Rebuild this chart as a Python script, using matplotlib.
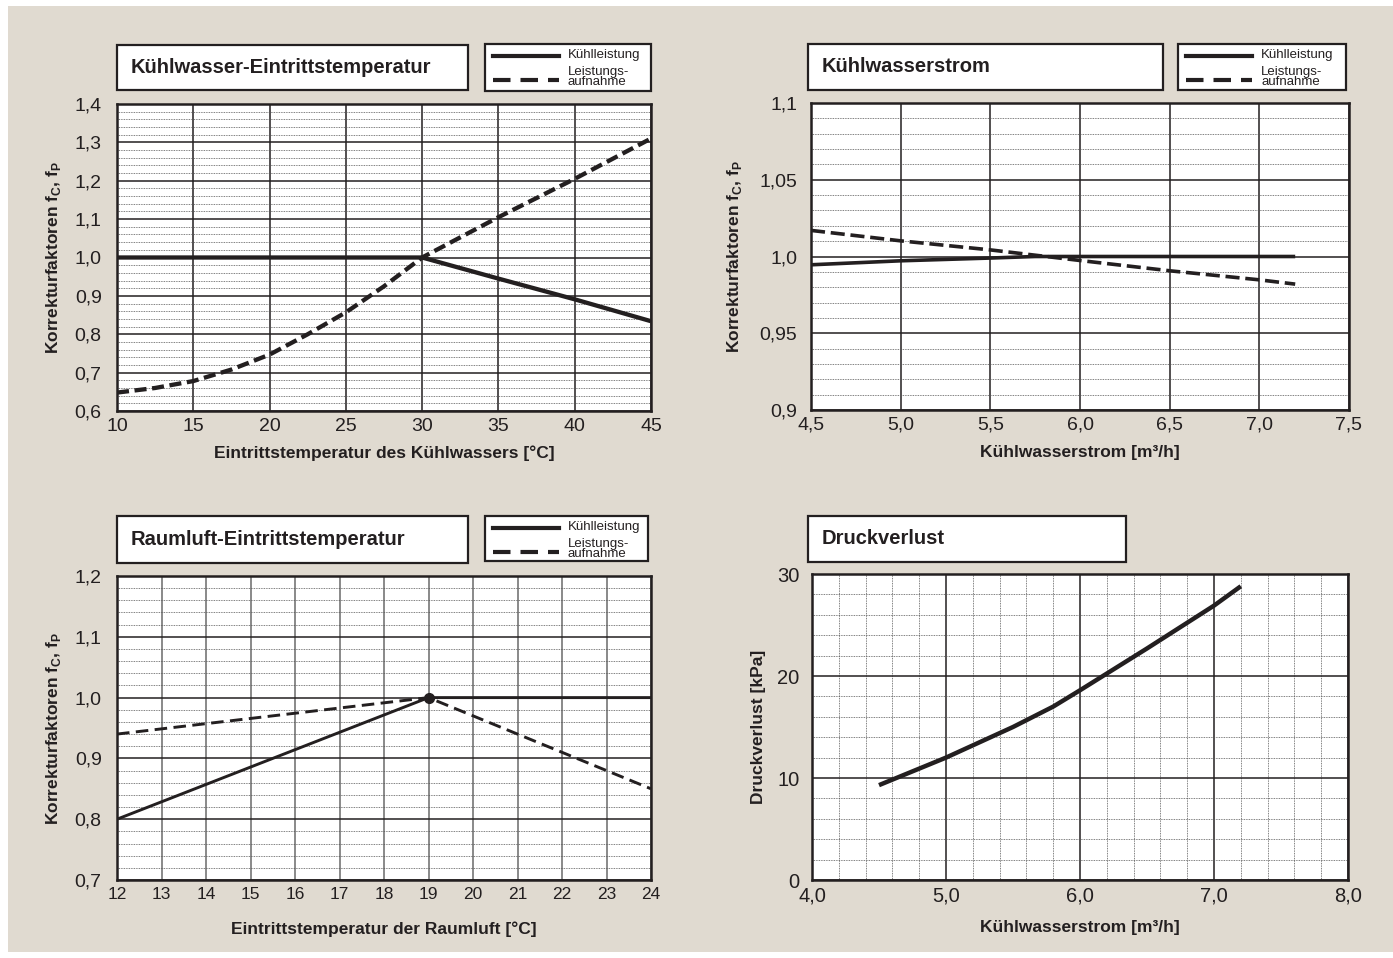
import numpy as np
import matplotlib.pyplot as plt
from matplotlib.patches import Rectangle
from matplotlib.lines import Line2D
from matplotlib.ticker import MultipleLocator

plt.rcParams['font.family'] = ['Liberation Sans', 'DejaVu Sans']
plt.rcParams['mathtext.fontset'] = 'custom'
plt.rcParams['mathtext.rm'] = 'Liberation Sans'
plt.rcParams['mathtext.bf'] = 'Liberation Sans:bold'

# --- data -------------------------------------------------------------
# Kühlwasser-Eintrittstemperatur
kw_temp = [10, 15, 20, 25, 30, 35, 40, 45]
kw_kuehl = [1.0, 1.0, 1.0, 1.0, 1.0, 0.945, 0.891, 0.834]
kw_temp_p = [10, 12.5, 15, 17.5, 20, 22.5, 25, 27.5, 30, 35, 40, 45]
kw_leist = [0.648, 0.660, 0.678, 0.708, 0.747, 0.800, 0.857, 0.925, 1.0, 1.105, 1.205, 1.31]
kw_xticks = [10, 15, 20, 25, 30, 35, 40, 45]
kw_yticks = [0.6, 0.7, 0.8, 0.9, 1.0, 1.1, 1.2, 1.3, 1.4]
kw_ylabels = ['0,6', '0,7', '0,8', '0,9', '1,0', '1,1', '1,2', '1,3', '1,4']

# Kühlwasserstrom
ks_flow = [4.5, 5.0, 5.5, 5.75, 6.0, 6.5, 7.0, 7.2]
ks_kuehl = [0.9946, 0.9972, 0.999, 1.0, 1.0, 1.0, 1.0, 1.0]
ks_flow_p = [4.5, 5.0, 5.5, 6.0, 6.5, 7.0, 7.2]
ks_leist = [1.017, 1.0102, 1.0043, 0.9974, 0.9907, 0.9848, 0.982]
ks_xticks = [4.5, 5.0, 5.5, 6.0, 6.5, 7.0, 7.5]
ks_xlabels = ['4,5', '5,0', '5,5', '6,0', '6,5', '7,0', '7,5']
ks_yticks = [0.9, 0.95, 1.0, 1.05, 1.1]
ks_ylabels = ['0,9', '0,95', '1,0', '1,05', '1,1']

# Raumluft-Eintrittstemperatur
rl_temp = [12, 19, 24]
rl_kuehl = [0.8, 1.0, 1.0]
rl_leist = [0.94, 1.0, 0.85]
rl_xticks = list(range(12, 25))
rl_yticks = [0.7, 0.8, 0.9, 1.0, 1.1, 1.2]
rl_ylabels = ['0,7', '0,8', '0,9', '1,0', '1,1', '1,2']

# Druckverlust
dv_flow = [4.5, 5.0, 5.5, 5.8, 6.0, 6.5, 7.0, 7.2]
dv_kpa = [9.3, 12.0, 15.0, 17.0, 18.6, 22.7, 26.9, 28.8]
dv_xticks = [4.0, 5.0, 6.0, 7.0, 8.0]
dv_xlabels = ['4,0', '5,0', '6,0', '7,0', '8,0']
dv_yticks = [0, 10, 20, 30]

# --- figure -----------------------------------------------------------
W, H = 1393, 958
BG = '#e0dad0'
INK = '#231f20'
fig = plt.figure(figsize=(W / 100, H / 100), dpi=100, facecolor='white')
fig.patches.append(Rectangle((8 / W, 6 / H), 1 - 8 / W, 1 - 12 / H, transform=fig.transFigure,
                             facecolor=BG, edgecolor='none', zorder=-10))


def rect(l, t, r, b):
    return [l / W, 1 - b / H, (r - l) / W, (b - t) / H]


def title_box(l, t, r, b, text):
    fig.patches.append(Rectangle((l / W, 1 - b / H), (r - l) / W, (b - t) / H,
                                 transform=fig.transFigure, facecolor='white',
                                 edgecolor=INK, lw=1.6))
    fig.text((l + 14) / W, 1 - (t + b) / 2 / H, text, fontsize=14.5, fontweight='bold',
             color=INK, va='center', ha='left')


def legend_box(l, t, r, b):
    fig.patches.append(Rectangle((l / W, 1 - b / H), (r - l) / W, (b - t) / H,
                                 transform=fig.transFigure, facecolor='white',
                                 edgecolor=INK, lw=1.6))
    y1 = t + 12
    y2 = t + 36
    x0, x1 = (l + 8) / W, (l + 74) / W
    fig.lines.append(Line2D([x0, x1], [1 - y1 / H, 1 - y1 / H],
                            transform=fig.transFigure, color=INK, lw=3))
    fig.lines.append(Line2D([x0, x1], [1 - y2 / H, 1 - y2 / H],
                            transform=fig.transFigure, color=INK, lw=3, dashes=(4.2, 2.4)))
    fig.text((l + 83) / W, 1 - (y1 - 1) / H, 'Kühlleistung', fontsize=9.5, color=INK, va='center')
    fig.text((l + 83) / W, 1 - (y2 - 8) / H, 'Leistungs-', fontsize=9.5, color=INK, va='center')
    fig.text((l + 83) / W, 1 - (y2 + 2) / H, 'aufnahme', fontsize=9.5, color=INK, va='center')


def style_axes(ax, minor_x=None, minor_y=None, vgrid_color=INK, ypad=11):
    ax.set_facecolor('white')
    for s in ax.spines.values():
        s.set_linewidth(1.8)
        s.set_color(INK)
    if minor_y:
        ax.yaxis.set_minor_locator(MultipleLocator(minor_y))
        ax.grid(True, which='minor', axis='y', color='#555555', lw=0.6, ls=(0, (1, 1)))
    if minor_x:
        ax.xaxis.set_minor_locator(MultipleLocator(minor_x))
        ax.grid(True, which='minor', axis='x', color='#555555', lw=0.6, ls=(0, (1, 1)))
    ax.grid(True, which='major', axis='y', color=INK, lw=1.1)
    ax.grid(True, which='major', axis='x', color=vgrid_color, lw=1.1)
    ax.tick_params(which='both', length=0, labelsize=14, colors=INK)
    ax.tick_params(axis='y', pad=ypad)
    ax.tick_params(axis='x', pad=5)
    ax.set_axisbelow(True)


def labels(ax, xl, yl, xy, yx):
    ax.set_xlabel(xl, fontsize=12.5, fontweight='bold', color=INK)
    ax.set_ylabel(yl, fontsize=12.5, fontweight='bold', color=INK)
    ax.xaxis.set_label_coords(0.5, xy)
    ax.yaxis.set_label_coords(yx, 0.5)
    ax.xaxis.label.set_va('center')
    ax.yaxis.label.set_va('center')


ylab = r'Korrekturfaktoren f$_\mathbf{C}$, f$_\mathbf{P}$'

# top left
ax1 = fig.add_axes(rect(117, 104, 651, 411))
ax1.plot(kw_temp, kw_kuehl, color=INK, lw=3.1, solid_capstyle='butt')
ax1.plot(kw_temp_p, kw_leist, color=INK, lw=3.1, dashes=(2.8, 1.3))
ax1.set_xlim(10, 45)
ax1.set_ylim(0.6, 1.4)
ax1.set_xticks(kw_xticks)
ax1.set_yticks(kw_yticks)
ax1.set_yticklabels(kw_ylabels)
style_axes(ax1, minor_y=0.02)
labels(ax1, 'Eintrittstemperatur des Kühlwassers [°C]', ylab, -0.137, -0.118)
title_box(117, 45, 468, 90, 'Kühlwasser-Eintrittstemperatur')
legend_box(485, 44, 651, 91)

# top right
ax2 = fig.add_axes(rect(811, 103, 1349, 410))
ax2.plot(ks_flow, ks_kuehl, color=INK, lw=2.6, solid_capstyle='butt')
ax2.plot(ks_flow_p, ks_leist, color=INK, lw=2.6, dashes=(3.9, 1.6))
ax2.set_xlim(4.5, 7.5)
ax2.set_ylim(0.9, 1.1)
ax2.set_xticks(ks_xticks)
ax2.set_xticklabels(ks_xlabels)
ax2.set_yticks(ks_yticks)
ax2.set_yticklabels(ks_ylabels)
style_axes(ax2, minor_y=0.01, ypad=10)
labels(ax2, 'Kühlwasserstrom [m³/h]', ylab, -0.14, -0.143)
title_box(808, 44, 1163, 90, 'Kühlwasserstrom')
legend_box(1178, 44, 1346, 90)

# bottom left
ax3 = fig.add_axes(rect(117, 576, 651, 880))
ax3.plot(rl_temp, rl_kuehl, color=INK, lw=2.1, solid_capstyle='butt')
ax3.plot(rl_temp, rl_leist, color=INK, lw=2.1, dashes=(4.3, 2.2))
ax3.plot([rl_temp[1]], [rl_kuehl[1]], 'o', color=INK, ms=7)
ax3.set_xlim(12, 24)
ax3.set_ylim(0.7, 1.2)
ax3.set_xticks(rl_xticks)
ax3.set_yticks(rl_yticks)
ax3.set_yticklabels(rl_ylabels)
style_axes(ax3, minor_y=0.02, vgrid_color='#6a6a6a')
ax3.tick_params(axis='x', labelsize=12.5)
labels(ax3, 'Eintrittstemperatur der Raumluft [°C]', ylab, -0.161, -0.118)
title_box(117, 516, 468, 563, 'Raumluft-Eintrittstemperatur')
legend_box(485, 516, 648, 561)

# bottom right
ax4 = fig.add_axes(rect(812, 574, 1348, 880))
ax4.plot(dv_flow, dv_kpa, color=INK, lw=3.2, solid_capstyle='butt')
ax4.set_xlim(4.0, 8.0)
ax4.set_ylim(0, 30)
ax4.set_xticks(dv_xticks)
ax4.set_xticklabels(dv_xlabels)
ax4.set_yticks(dv_yticks)
style_axes(ax4, minor_x=0.2, minor_y=2, ypad=9)
ax4.tick_params(axis='x', labelsize=14.5)
ax4.tick_params(axis='y', labelsize=14.5)
labels(ax4, 'Kühlwasserstrom [m³/h]', 'Druckverlust [kPa]', -0.154, -0.10)
title_box(808, 516, 1126, 562, 'Druckverlust')

fig.savefig('out.png', dpi=100, facecolor='white')
